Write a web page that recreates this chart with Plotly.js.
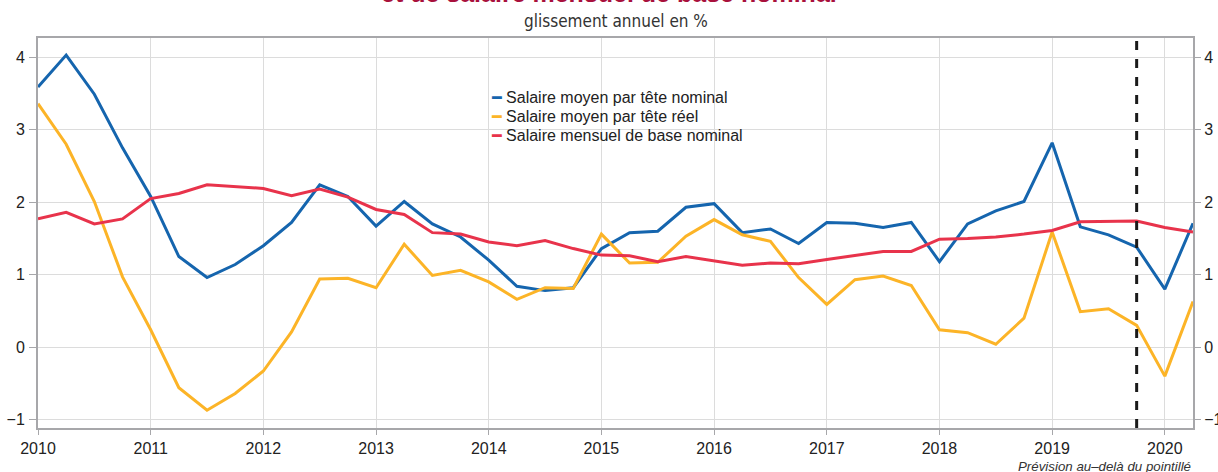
<!DOCTYPE html>
<html>
<head>
<meta charset="utf-8">
<script src="https://cdn.plot.ly/plotly-3.0.1.min.js"></script>
<style>html,body{margin:0;padding:0;background:#fff;}#chart{width:1218px;height:472px;}</style>
</head>
<body>
<div id="chart"></div>
<script>
// Quarterly observations, 2010 Q1 to 2020 Q2
const startYear = 2010;
const nominalPerHead = [3.59,4.03,3.49,2.75,2.08,1.25,0.96,1.14,1.40,1.72,2.24,2.08,1.67,2.01,
  1.70,1.52,1.20,0.84,0.78,0.82,1.36,1.58,1.60,1.93,1.98,1.58,1.63,1.43,
  1.72,1.71,1.65,1.72,1.18,1.70,1.88,2.01,2.82,1.66,1.55,1.38,0.80,1.71];
const realPerHead = [3.36,2.80,2.01,0.97,0.24,-0.56,-0.87,-0.64,-0.33,0.21,0.94,0.95,0.82,1.42,
  0.99,1.06,0.90,0.66,0.82,0.81,1.56,1.16,1.17,1.53,1.76,1.55,1.46,0.96,
  0.59,0.93,0.98,0.85,0.24,0.20,0.04,0.40,1.59,0.49,0.53,0.30,-0.40,0.63];
const monthlyBase = [1.77,1.86,1.70,1.77,2.05,2.12,2.24,2.22,2.19,2.09,2.18,2.07,1.90,1.83,
  1.58,1.56,1.45,1.40,1.47,1.36,1.27,1.26,1.18,1.25,1.19,1.13,1.16,1.15,
  1.21,1.26,1.32,1.32,1.49,1.50,1.52,1.56,1.61,1.73,1.73,1.74,1.65,1.59];
const seriesNames = ["Salaire moyen par tête nominal","Salaire moyen par tête réel","Salaire mensuel de base nominal"];
const yearTicks = [2010,2011,2012,2013,2014,2015,2016,2017,2018,2019,2020];
const yTicks = [-1,0,1,2,3,4];
const forecastStart = 2019.75;

const quarters = nominalPerHead.map((_, i) => startYear + i / 4);
const colors = ["#1565ae", "#fcb427", "#e8334b"];
const font = "Liberation Sans, Arial, Helvetica, sans-serif";

const traces = [nominalPerHead, realPerHead, monthlyBase].map((vals, k) => ({
  x: quarters, y: vals, type: "scatter", mode: "lines", name: seriesNames[k],
  line: {color: colors[k], width: 3}, hoverinfo: "x+y", showlegend: false
}));
traces.push({x: [null], y: [null], yaxis: "y2", showlegend: false, type: "scatter", mode: "lines"});

// legend built as text: a short coloured bar glyph followed by the series name
const legendRowY = [0.847, 0.798, 0.7495];
const legendAnnotations = seriesNames.map((n, k) => ({
  text: `<span style="color:${colors[k]};font-family:'DejaVu Sans'">━</span> ${n}`,
  xref: "paper", yref: "paper", x: 0.3905, y: legendRowY[k],
  xanchor: "left", yanchor: "middle", align: "left", showarrow: false,
  font: {family: font, size: 16, color: "#222"}
}));

const axisCommon = {
  showline: true, linecolor: "#a7a7aa", linewidth: 2,
  gridcolor: "#dcdcdc", gridwidth: 1, zeroline: false,
  ticks: "outside", ticklen: 7, tickcolor: "#a7a7aa", tickwidth: 1,
  tickfont: {family: font, size: 16, color: "#222"}
};
const yRange = [-1.116, 4.266];

const layout = {
  width: 1218, height: 472,
  margin: {l: 38, r: 25, t: 38, b: 44},
  paper_bgcolor: "#fff", plot_bgcolor: "#fff",
  showlegend: false,
  xaxis: Object.assign({}, axisCommon, {range: [2010, 2020.25], tickvals: yearTicks,
    ticktext: yearTicks.map(String), mirror: true, ticklen: 5}),
  yaxis: Object.assign({}, axisCommon, {range: yRange, tickvals: yTicks, mirror: true, ticklabelstandoff: 1}),
  yaxis2: Object.assign({}, axisCommon, {range: yRange, tickvals: yTicks, overlaying: "y", side: "right",
    showgrid: false, showline: false}),
  shapes: [{type: "line", xref: "x", yref: "paper", x0: forecastStart, x1: forecastStart, y0: 0, y1: 1,
    line: {color: "#1a1a1a", width: 3, dash: "dash"}}],
  annotations: legendAnnotations.concat([
    {text: "<b>et de salaire mensuel de base nominal</b>", xref: "paper", yref: "paper", x: 0.494, y: 1.074,
      xanchor: "center", yanchor: "bottom", showarrow: false,
      font: {family: font, size: 25, color: "#a8103c"}},
    {text: "glissement annuel en %", xref: "paper", yref: "paper", x: 0.5, y: 1.014,
      xanchor: "center", yanchor: "bottom", showarrow: false,
      font: {family: "Liberation Sans Narrow, DejaVu Sans Condensed, sans-serif", size: 17, color: "#333"}},
    {text: "<i>Prévision au–delà du pointillé</i>", xref: "paper", yref: "paper", x: 1, y: -0.074,
      xanchor: "right", yanchor: "top", showarrow: false,
      font: {family: font, size: 13.3, color: "#333"}}
  ])
};

Plotly.newPlot("chart", traces, layout, {staticPlot: true, displayModeBar: false});
</script>
</body>
</html>
